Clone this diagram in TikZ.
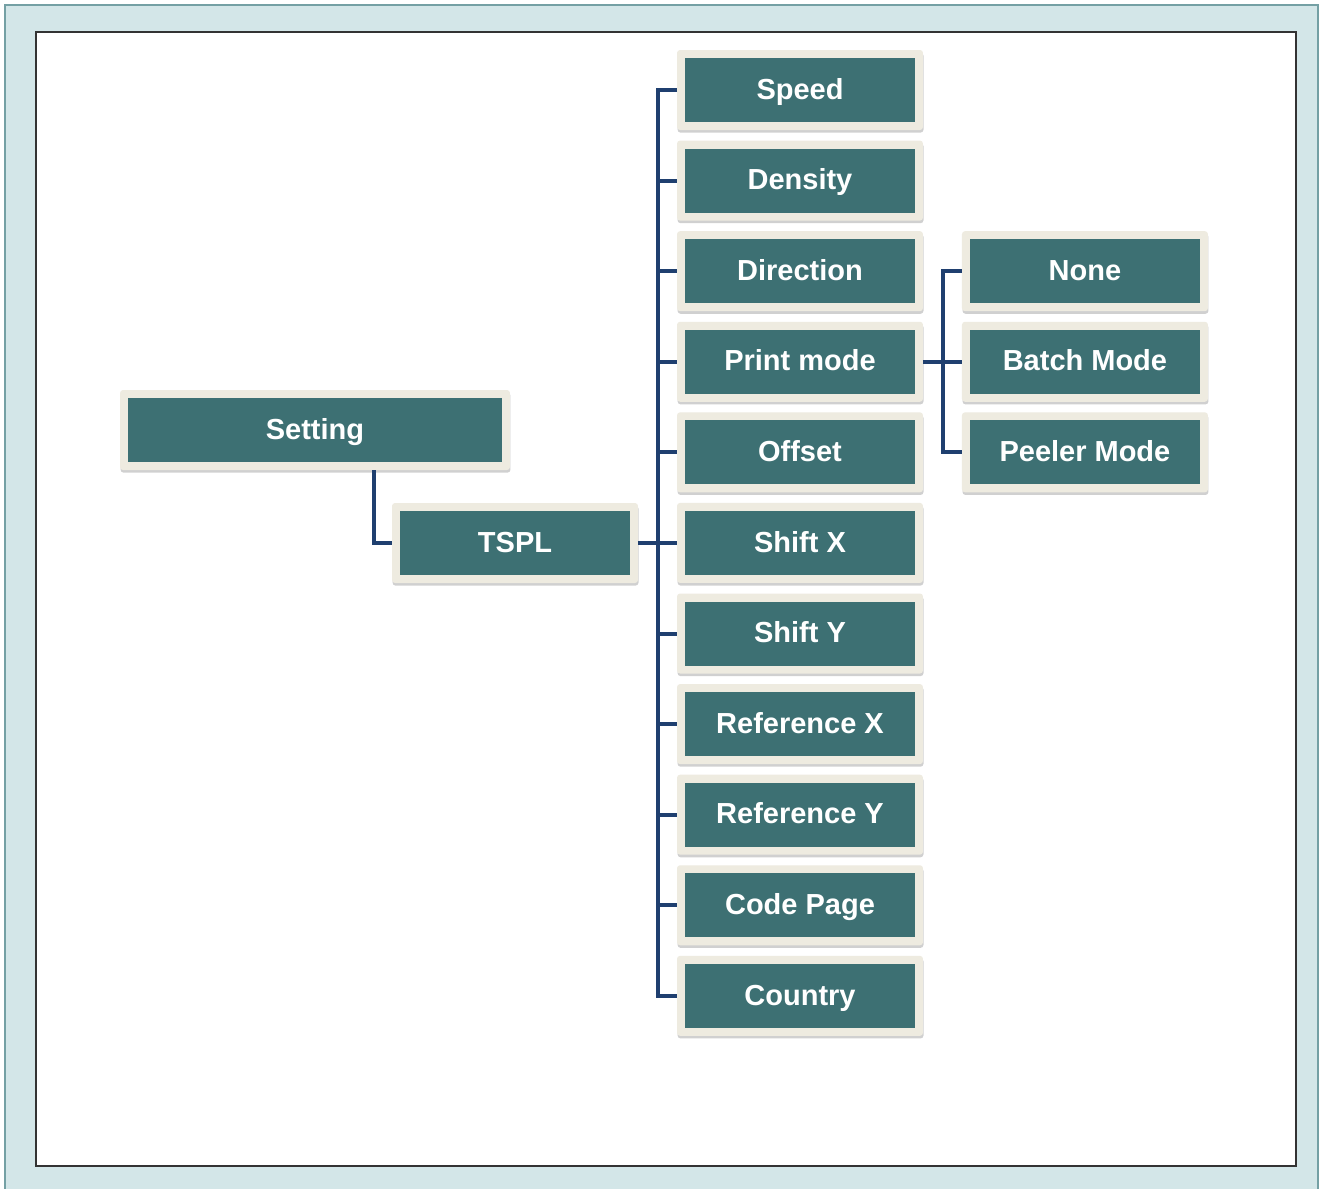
\documentclass[tikz,border=0pt]{standalone}
\usepackage{fontspec}
\setmainfont{Liberation Sans}
\usetikzlibrary{positioning,shadows}

\definecolor{tealbox}{HTML}{3D7073}
\definecolor{creamrim}{HTML}{EEEBE0}
\definecolor{linkblue}{HTML}{1F3F6F}
\definecolor{framebg}{HTML}{D3E6E8}
\definecolor{frameline}{HTML}{74A0A4}

\begin{document}
\begin{tikzpicture}[
  x=0.02cm, y=-0.02cm,
  font=\fontsize{16.5}{19}\selectfont\bfseries,
  menubox/.style={
    fill=creamrim,
    rounded corners=0.06cm,
    text=white,
    align=center,
    text height=10.5pt,
    text depth=0pt,
    minimum width=4.92cm,
    minimum height=1.6cm,
    inner sep=0pt,
    outer sep=0pt,
    drop shadow={shadow xshift=0.3pt, shadow yshift=-1.5pt, opacity=0.3, fill=black!60},
    path picture={
      \fill[tealbox, sharp corners] ([shift={(0.16cm,0.16cm)}]path picture bounding box.south west)
        rectangle ([shift={(-0.16cm,-0.16cm)}]path picture bounding box.north east);
    }
  },
  link/.style={draw=linkblue, line width=0.08cm}
]

\useasboundingbox (0,0) rectangle (1328,1188);
\begin{scope}
\clip (0,0) rectangle (1328,1188);
\fill[framebg, draw=frameline, line width=0.04cm] (5,5) rectangle (1318,1210);
\end{scope}
\draw[fill=white, draw=black!80, line width=0.03cm] (36,32) rectangle (1296,1166);

\node[menubox, minimum width=7.8cm] (setting) at (315,430) {Setting};
\node[menubox] (tspl) at (515,543) {TSPL};

\node[menubox] (speed) at (800,90) {Speed};
\node[menubox, below=0.212cm of speed] (density) {Density};
\node[menubox, below=0.212cm of density] (direction) {Direction};
\node[menubox, below=0.212cm of direction] (printmode) {Print mode};
\node[menubox, below=0.212cm of printmode] (offset) {Offset};
\node[menubox, below=0.212cm of offset] (shiftx) {Shift X};
\node[menubox, below=0.212cm of shiftx] (shifty) {Shift Y};
\node[menubox, below=0.212cm of shifty] (refx) {Reference X};
\node[menubox, below=0.212cm of refx] (refy) {Reference Y};
\node[menubox, below=0.212cm of refy] (codepage) {Code Page};
\node[menubox, below=0.212cm of codepage] (country) {Country};

\node[menubox, right=0.78cm of direction] (none) {None};
\node[menubox, below=0.212cm of none] (batch) {Batch Mode};
\node[menubox, below=0.212cm of batch] (peeler) {Peeler Mode};

\coordinate[right=0.4cm of tspl] (trunk);
\coordinate[right=0.4cm of printmode] (subtrunk);

% setting to tspl
\draw[link] ([xshift=1.18cm]setting.south) |- (tspl.west);

% tspl to its items
\draw[link] (tspl.east) -- (trunk);
\draw[link] (speed.west) -| (trunk |- country.west) -- (country.west);
\draw[link] (trunk |- density.west) -- (density.west);
\draw[link] (trunk |- direction.west) -- (direction.west);
\draw[link] (trunk |- printmode.west) -- (printmode.west);
\draw[link] (trunk |- offset.west) -- (offset.west);
\draw[link] (trunk |- shiftx.west) -- (shiftx.west);
\draw[link] (trunk |- shifty.west) -- (shifty.west);
\draw[link] (trunk |- refx.west) -- (refx.west);
\draw[link] (trunk |- refy.west) -- (refy.west);
\draw[link] (trunk |- codepage.west) -- (codepage.west);

% print mode to its modes
\draw[link] (printmode.east) -- (batch.west);
\draw[link] (none.west) -| (subtrunk |- peeler.west) -- (peeler.west);

\end{tikzpicture}
\end{document}
